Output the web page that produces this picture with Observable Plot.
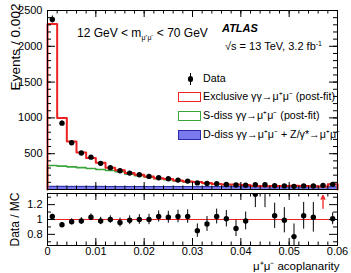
<!DOCTYPE html>
<html>
<head>
<meta charset="utf-8">
<script src="https://cdn.jsdelivr.net/npm/d3@7"></script>
<script src="https://cdn.jsdelivr.net/npm/@observablehq/plot@0.6"></script>
<style>
  body { margin: 0; background: #fff; }
  #chart { position: relative; width: 351px; height: 273px; overflow: hidden;
           font-family: "Liberation Sans", Arial, Helvetica, sans-serif; color: #000; }
  #chart svg { position: absolute; left: 0; }
  .note { position: absolute; white-space: nowrap; line-height: 1; }
  .box { position: absolute; box-sizing: border-box; }
</style>
</head>
<body>
<div id="chart"></div>
<script>
// Acoplanarity bins (lower edges), width 0.002
const binWidth = 0.002;
const binLow = [0, 0.002, 0.004, 0.006, 0.008, 0.010, 0.012, 0.014, 0.016, 0.018,
                0.020, 0.022, 0.024, 0.026, 0.028, 0.030, 0.032, 0.034, 0.036, 0.038,
                0.040, 0.042, 0.044, 0.046, 0.048, 0.050, 0.052, 0.054, 0.056, 0.058];

// Observed events per bin
const dataCounts = [2375, 927, 652, 510, 452, 365, 305, 262, 229, 206,
                    183, 164, 150, 131, 117, 92, 84, 80, 70, 62,
                    61, 66, 66, 52, 50, 44, 50, 48, 58, 72];
// Stacked expectation: total (exclusive on top), S-diss + D-diss, D-diss alone
const totalMC = [2312, 1000, 672, 518, 440, 372, 305, 270, 232, 206,
                 183, 158, 146, 126, 112, 106, 90, 77, 69, 70,
                 62, 49, 47, 50, 50, 52, 48, 46, 41, 74];
const sdissStack = [335, 326, 316, 305, 293, 280, 265, 248, 215, 192,
                    172, 150, 138, 120, 106, 101, 86, 74, 66, 67,
                    59, 47, 45, 48, 48, 50, 46, 44, 39, 70];
const ddiss = [44, 44, 43, 43, 43, 43, 42, 42, 42, 42,
               41, 41, 41, 41, 41, 40, 40, 40, 40, 40,
               39, 39, 39, 39, 39, 38, 38, 38, 38, 38];

// Data / MC ratio and its uncertainty
const ratio = [1.04, 0.93, 0.97, 0.98, 1.03, 0.98, 1.00, 0.96, 0.99, 1.00,
               1.00, 1.04, 1.03, 1.04, 1.04, 0.85, 0.94, 1.04, 1.01, 0.88,
               0.98, 1.34, 1.40, 1.05, 0.99, 0.77, 1.05, 1.03, 1.60, 1.01];
const ratioErr = [0.03, 0.03, 0.04, 0.045, 0.045, 0.05, 0.05, 0.06, 0.06, 0.065,
                  0.07, 0.075, 0.08, 0.085, 0.09, 0.09, 0.10, 0.10, 0.11, 0.11,
                  0.12, 0.18, 0.24, 0.17, 0.17, 0.17, 0.18, 0.20, 0.20, 0.08];

const xTicksMajor = [0, 0.01, 0.02, 0.03, 0.04, 0.05, 0.06];
const yTicksUpper = [500, 1000, 1500, 2000, 2500];
const yTicksRatio = [0.8, 1, 1.2];

const xDomain = [0, 0.06];
const yDomainUpper = [0, 2500];
const yDomainRatio = [0.65, 1.35];

const font = '"Liberation Sans", Arial, Helvetica, sans-serif';
const W = 351, mL = 47, mR = 14;
const frameW = W - mL - mR;

const bins = binLow.map((lo, i) => ({
  lo, hi: lo + binWidth, mid: lo + binWidth / 2,
  data: dataCounts[i], total: totalMC[i], sdiss: sdissStack[i], ddiss: ddiss[i],
  ratio: ratio[i], err: ratioErr[i]
}));

// Outline of a histogram as step points
function stepPoints(values) {
  const pts = [{x: binLow[0], y: 0}];
  values.forEach((v, i) => pts.push({x: binLow[i], y: v}));
  const end = binLow[binLow.length - 1] + binWidth;
  pts.push({x: end, y: values[values.length - 1]});
  pts.push({x: end, y: 0});
  return pts;
}

// Minor tick positions between the given range
function minorTicks(lo, hi, step) {
  const n = Math.round((hi - lo) / step);
  return d3.range(n + 1).map(i => +(lo + i * step).toFixed(6));
}

// Inward ticks on all four sides of the frame
function frameTicks(xMajor, xMinor, yMajor, yMinor, frameH) {
  const s = {stroke: "#000", strokeWidth: 1};
  return [
    Plot.tickX(xMajor, {x: d => d, insetTop: frameH - 7, ...s}),
    Plot.tickX(xMinor, {x: d => d, insetTop: frameH - 3.5, ...s}),
    Plot.tickX(xMajor, {x: d => d, insetBottom: frameH - 7, ...s}),
    Plot.tickX(xMinor, {x: d => d, insetBottom: frameH - 3.5, ...s}),
    Plot.tickY(yMajor, {y: d => d, insetRight: frameW - 8, ...s}),
    Plot.tickY(yMinor, {y: d => d, insetRight: frameW - 4, ...s}),
    Plot.tickY(yMajor, {y: d => d, insetLeft: frameW - 8, ...s}),
    Plot.tickY(yMinor, {y: d => d, insetLeft: frameW - 4, ...s})
  ];
}

const xMinor = minorTicks(0, 0.06, 0.002);
const upperH = 192, upperTop = 10, upperBottom = 3;
const upperFrameH = upperH - upperTop - upperBottom;

const red = "#ee2222", green = "#3ca43c", blueFill = "#7a7aee", blueLine = "#2a2aa8";

const upper = Plot.plot({
  width: W, height: upperH,
  marginLeft: mL, marginRight: mR, marginTop: upperTop, marginBottom: upperBottom,
  x: {domain: xDomain, axis: null},
  y: {domain: yDomainUpper},
  style: {fontFamily: font, fontSize: "11px", color: "#000", background: "transparent", overflow: "visible"},
  marks: [
    Plot.rectY(bins, {x1: "lo", x2: "hi", y: "ddiss", fill: blueFill}),
    Plot.line(stepPoints(ddiss), {x: "x", y: "y", curve: "step-after", stroke: blueLine, strokeWidth: 1}),
    Plot.line(stepPoints(sdissStack), {x: "x", y: "y", curve: "step-after", stroke: green, strokeWidth: 1.6}),
    Plot.line(stepPoints(totalMC), {x: "x", y: "y", curve: "step-after", stroke: red, strokeWidth: 2}),
    Plot.ruleX(bins, {x: "mid", y1: d => d.data - Math.sqrt(d.data), y2: d => d.data + Math.sqrt(d.data), stroke: "#000", strokeWidth: 1}),
    Plot.dot(bins, {x: "mid", y: "data", r: 2.7, fill: "#000", stroke: "none"}),
    Plot.frame({stroke: "#000", strokeWidth: 1}),
    ...frameTicks(xTicksMajor, xMinor, yTicksUpper, minorTicks(0, 2500, 100), upperFrameH),
    Plot.axisY({ticks: yTicksUpper, tickSize: 0, tickPadding: 5, label: null, tickFormat: d => String(d)}),
    Plot.text(["Events / 0.002"], {frameAnchor: "top-left", rotate: -90, textAnchor: "end",
      dx: -37, dy: -7, fontSize: 13.6})
  ]
});
upper.style.top = "0px";

const lowerTopPos = 190, lowerH = 83, lowerTop = 3, lowerBottom = 28;
const lowerFrameH = lowerH - lowerTop - lowerBottom;
const yMax = yDomainRatio[1];
const arrows = bins.filter(d => d.ratio - d.err > yMax);

const lower = Plot.plot({
  width: W, height: lowerH,
  marginLeft: mL, marginRight: mR, marginTop: lowerTop, marginBottom: lowerBottom,
  x: {domain: xDomain},
  y: {domain: yDomainRatio},
  style: {fontFamily: font, fontSize: "11px", color: "#000", background: "transparent", overflow: "visible"},
  marks: [
    Plot.ruleY([1], {stroke: red, strokeWidth: 1}),
    Plot.ruleX(bins.filter(d => d.ratio - d.err <= yMax), {x: "mid", y1: d => d.ratio - d.err, y2: d => d.ratio + d.err, stroke: "#000", strokeWidth: 1, clip: true}),
    Plot.dot(bins, {x: "mid", y: "ratio", r: 2.7, fill: "#000", stroke: "none", clip: true}),
    Plot.arrow(arrows, {x1: "mid", x2: "mid", y1: yMax - 0.2, y2: yMax - 0.025, stroke: red, strokeWidth: 1.3, headLength: 6, headAngle: 50}),
    Plot.frame({stroke: "#000", strokeWidth: 1}),
    ...frameTicks(xTicksMajor, xMinor, yTicksRatio, [0.7, 0.9, 1.1, 1.3], lowerFrameH),
    Plot.axisY({ticks: yTicksRatio, tickSize: 0, tickPadding: 5, label: null, tickFormat: d => d === 1 ? "1" : d.toFixed(1)}),
    Plot.axisX({ticks: xTicksMajor, tickSize: 0, tickPadding: 2, label: null, tickFormat: d => d === 0 ? "0" : d.toFixed(2)}),
    Plot.text(["Data / MC"], {frameAnchor: "top-left", rotate: -90, textAnchor: "end",
      dx: -37, dy: -1, fontSize: 12}),
    Plot.text(["\u03bc\u207a\u03bc\u207b acoplanarity"], {frameAnchor: "bottom-right", textAnchor: "end",
      lineAnchor: "bottom", dx: 2, dy: 24, fontSize: 11.5})
  ]
});
lower.style.top = lowerTopPos + "px";

const chart = document.getElementById("chart");
chart.appendChild(upper);
chart.appendChild(lower);

// Text notes and legend
function note(html, left, top, size, extra = "") {
  const d = document.createElement("div");
  d.className = "note";
  d.style.cssText = `left:${left}px;top:${top}px;font-size:${size}px;${extra}`;
  d.innerHTML = html;
  chart.appendChild(d);
  return d;
}
note('12 GeV &lt; m<sub style="font-size:7px;vertical-align:-3px">\u03bc\u207a\u03bc\u207b</sub> &lt; 70 GeV', 77, 27, 12);
note('ATLAS', 222, 23, 11, "font-weight:bold;font-style:italic;");
note('\u221as = 13 TeV, 3.2 fb<sup style="font-size:7px;vertical-align:4px">-1</sup>', 225, 39.5, 11);

const legendItems = [
  {label: "Data", kind: "data"},
  {label: "Exclusive \u03b3\u03b3\u2192\u03bc\u207a\u03bc\u207b (post-fit)", kind: "box", stroke: red, fill: "#fff"},
  {label: "S-diss \u03b3\u03b3\u2192\u03bc\u207a\u03bc\u207b (post-fit)", kind: "box", stroke: green, fill: "#fff"},
  {label: "D-diss \u03b3\u03b3\u2192\u03bc\u207a\u03bc\u207b + Z/\u03b3*\u2192\u03bc\u207a\u03bc\u207b", kind: "box", stroke: blueLine, fill: blueFill}
];
const rowY = [79, 97, 116, 135];
legendItems.forEach((item, i) => {
  const cy = rowY[i];
  if (item.kind === "data") {
    const bar = document.createElement("div");
    bar.className = "box";
    bar.style.cssText = `left:190px;top:${cy - 6}px;width:1px;height:12px;background:#000;`;
    chart.appendChild(bar);
    const dot = document.createElement("div");
    dot.className = "box";
    dot.style.cssText = `left:188px;top:${cy - 2.7}px;width:5.4px;height:5.4px;border-radius:50%;background:#000;`;
    chart.appendChild(dot);
  } else {
    const b = document.createElement("div");
    b.className = "box";
    b.style.cssText = `left:178px;top:${cy - 5}px;width:23px;height:10px;background:${item.fill};border:1.2px solid ${item.stroke};`;
    chart.appendChild(b);
  }
  note(item.label, 203, cy - 5.8, 10.7);
});
</script>
</body>
</html>
